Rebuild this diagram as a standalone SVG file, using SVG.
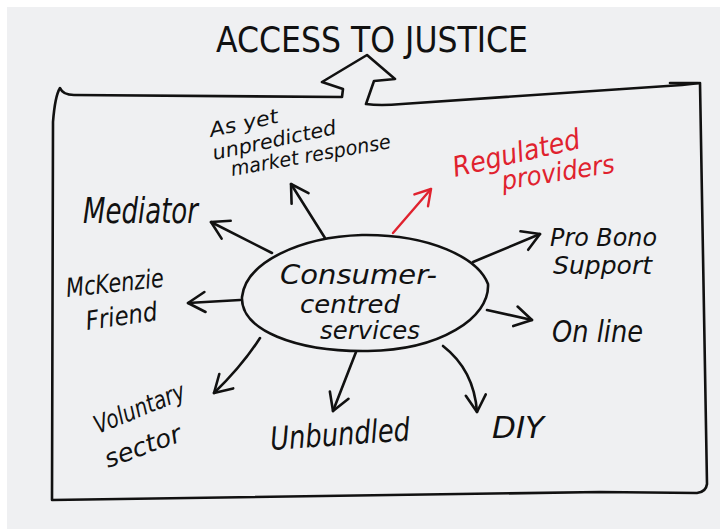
<svg xmlns="http://www.w3.org/2000/svg" width="720" height="529" viewBox="0 0 720 529">
  <defs>
    <style>
      .ink { fill: none; stroke: #111; stroke-width: 2.6; stroke-linecap: round; stroke-linejoin: round; }
      .red { fill: none; stroke: #e0222e; stroke-width: 2.4; stroke-linecap: round; stroke-linejoin: round; }
      .hand { font-family: "DejaVu Sans", "Liberation Sans", sans-serif; font-style: oblique; fill: #111; }
      .hand-red { font-family: "DejaVu Sans", "Liberation Sans", sans-serif; font-style: oblique; fill: #e0222e; }
      .title { font-family: "DejaVu Sans", "Liberation Sans", sans-serif; fill: #111; font-size: 36px; }
    </style>
    <marker id="head" viewBox="-20 -12 24 24" refX="0" refY="0" markerWidth="24" markerHeight="24" markerUnits="userSpaceOnUse" orient="auto">
      <path d="M -17 -10 L 0 0 L -17 10" fill="none" stroke="#111" stroke-width="2.6" stroke-linecap="round" stroke-linejoin="round"/>
    </marker>
    <marker id="head-red" viewBox="-20 -12 24 24" refX="0" refY="0" markerWidth="24" markerHeight="24" markerUnits="userSpaceOnUse" orient="auto">
      <path d="M -15 -9 L 0 0 L -15 9" fill="none" stroke="#e0222e" stroke-width="2.4" stroke-linecap="round" stroke-linejoin="round"/>
    </marker>
  </defs>

  <!-- paper -->
  <rect x="0" y="0" width="720" height="529" fill="#ffffff"/>
  <rect x="7" y="7" width="713" height="522" fill="#eff0f2"/>

  <!-- heading -->
  <g id="title">
    <text class="title" x="216" y="52" textLength="312" lengthAdjust="spacingAndGlyphs">ACCESS TO JUSTICE</text>
  </g>

  <!-- frame with the upward arrow towards the heading -->
  <g id="frame">
    <path class="ink" stroke-width="3" d="M 60 88 Q 63 95 74 95 L 342 97 L 343 89 L 322 82 L 367 55 L 395 79 L 374 81 L 366 104 Q 380 106 402 104 L 682 85 L 700 83 L 707 484 Q 706 492 697 493 L 600 492 L 52 500 L 53 122 Q 55 96 60 88 Z"/>
    <path class="ink" stroke-width="3" d="M 670 83 L 698 83"/>
  </g>

  <!-- central node -->
  <g id="consumer-centred">
    <path class="ink" d="M 242 297 C 246 262 300 237 362 235 C 430 234 478 258 488 284 C 490 318 440 350 368 351 C 296 352 240 330 242 297 Z"/>
    <text class="hand" font-size="27" x="280" y="284" textLength="157" lengthAdjust="spacingAndGlyphs">Consumer-</text>
    <text class="hand" font-size="25" x="300" y="313" textLength="100" lengthAdjust="spacingAndGlyphs">centred</text>
    <text class="hand" font-size="25" x="320" y="339" textLength="100" lengthAdjust="spacingAndGlyphs">services</text>
  </g>

  <!-- connectors -->
  <g id="connectors">
    <path class="ink" marker-end="url(#head)" d="M 325 238 L 291 184"/>
    <path class="ink" marker-end="url(#head)" d="M 272 253 L 211 222"/>
    <path class="ink" marker-end="url(#head)" d="M 240 300 L 188 303"/>
    <path class="ink" marker-end="url(#head)" d="M 260 338 Q 242 366 214 393"/>
    <path class="ink" marker-end="url(#head)" d="M 356 352 L 333 411"/>
    <path class="ink" marker-end="url(#head)" d="M 443 346 Q 474 370 477 412"/>
    <path class="ink" marker-end="url(#head)" d="M 487 310 L 532 320"/>
    <path class="ink" marker-end="url(#head)" d="M 473 262 L 540 234"/>
    <path class="red" marker-end="url(#head-red)" d="M 393 233 L 431 189"/>
  </g>

  <!-- outcome nodes -->
  <g id="market-response">
    <text class="hand" font-size="20" transform="translate(211 137) rotate(-12)" textLength="70" lengthAdjust="spacingAndGlyphs">As yet</text>
    <text class="hand" font-size="20" transform="translate(214 160) rotate(-12)" textLength="126" lengthAdjust="spacingAndGlyphs">unpredicted</text>
    <text class="hand" font-size="20" transform="translate(232 176) rotate(-10)" textLength="162" lengthAdjust="spacingAndGlyphs">market response</text>
  </g>

  <g id="regulated-providers">
    <text class="hand-red" font-size="28" transform="translate(455 177) rotate(-13)" textLength="130" lengthAdjust="spacingAndGlyphs">Regulated</text>
    <text class="hand-red" font-size="26" transform="translate(503 190) rotate(-9)" textLength="114" lengthAdjust="spacingAndGlyphs">providers</text>
  </g>

  <g id="mediator">
    <text class="hand" font-size="36" x="83" y="223" textLength="115" lengthAdjust="spacingAndGlyphs">Mediator</text>
  </g>

  <g id="mckenzie-friend">
    <text class="hand" font-size="26" transform="translate(67 297) rotate(-6)" textLength="98" lengthAdjust="spacingAndGlyphs">McKenzie</text>
    <text class="hand" font-size="26" transform="translate(87 330) rotate(-8)" textLength="72" lengthAdjust="spacingAndGlyphs">Friend</text>
  </g>

  <g id="pro-bono">
    <text class="hand" font-size="25" x="550" y="246" textLength="107" lengthAdjust="spacingAndGlyphs">Pro Bono</text>
    <text class="hand" font-size="25" x="553" y="274" textLength="99" lengthAdjust="spacingAndGlyphs">Support</text>
  </g>

  <g id="online">
    <text class="hand" font-size="30" x="552" y="342" textLength="91" lengthAdjust="spacingAndGlyphs">On line</text>
  </g>

  <g id="voluntary-sector">
    <text class="hand" font-size="25" transform="translate(98 434) rotate(-22)" textLength="96" lengthAdjust="spacingAndGlyphs">Voluntary</text>
    <text class="hand" font-size="25" transform="translate(108 468) rotate(-20)" textLength="80" lengthAdjust="spacingAndGlyphs">sector</text>
  </g>

  <g id="unbundled">
    <text class="hand" font-size="32" transform="translate(271 450) rotate(-4)" textLength="140" lengthAdjust="spacingAndGlyphs">Unbundled</text>
  </g>

  <g id="diy">
    <text class="hand" font-size="30" x="492" y="438" textLength="52" lengthAdjust="spacingAndGlyphs">DIY</text>
  </g>
</svg>
